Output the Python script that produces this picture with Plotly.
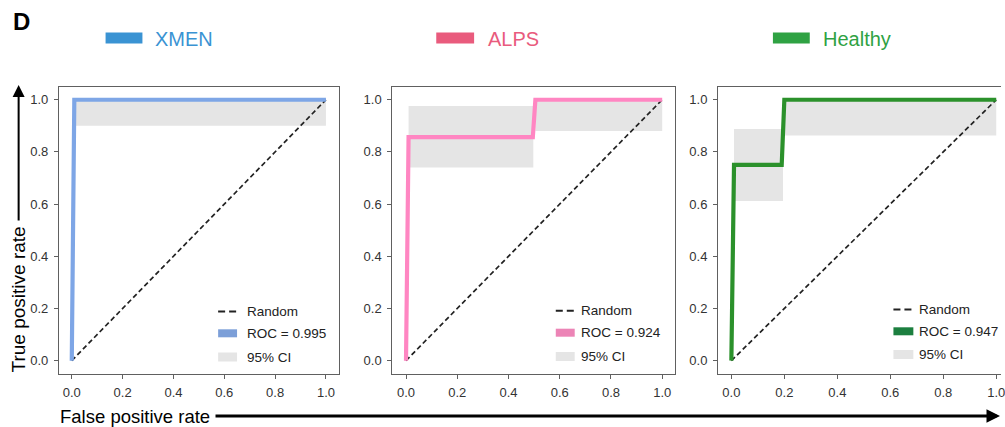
import plotly.graph_objects as go

# ---------------- data ----------------
panels = ["XMEN", "ALPS", "Healthy"]
auc_values = [0.995, 0.924, 0.947]

xmen_fpr = [0.0, 0.01, 1.0]
xmen_tpr = [0.0, 1.0, 1.0]
alps_fpr = [0.0, 0.01, 0.495, 0.505, 1.0]
alps_tpr = [0.0, 0.857, 0.857, 1.0, 1.0]
healthy_fpr = [0.0, 0.01, 0.19, 0.20, 1.0]
healthy_tpr = [0.0, 0.75, 0.75, 1.0, 1.0]

# 95% CI bands (step segments): start fpr, end fpr, lower tpr, upper tpr
xmen_ci_x0 = [0.015]
xmen_ci_x1 = [1.0]
xmen_ci_lo = [0.90]
xmen_ci_hi = [1.0]
alps_ci_x0 = [0.01, 0.505]
alps_ci_x1 = [0.497, 1.0]
alps_ci_lo = [0.74, 0.88]
alps_ci_hi = [0.976, 1.0]
healthy_ci_x0 = [0.01, 0.20]
healthy_ci_x1 = [0.195, 1.0]
healthy_ci_lo = [0.612, 0.863]
healthy_ci_hi = [0.888, 1.0]

random_x = [0.0, 1.0]
random_y = [0.0, 1.0]

tick_vals = [0.0, 0.2, 0.4, 0.6, 0.8, 1.0]
tick_text = ["0.0", "0.2", "0.4", "0.6", "0.8", "1.0"]

# ---------------- styles ----------------
W, H = 1005, 427
FONT = "Arial, Liberation Sans, Helvetica, sans-serif"
line_colors = ["#7ea6e6", "#ff86c2", "#2b912b"]
swatch_colors = ["#7c9fd8", "#ec84b6", "#1c7f3f"]
header_colors = ["#3a93d3", "#e95b7d", "#2fa243"]
CI_COLOR = "#e5e5e5"
AX_COLOR = "#606060"


def px(x):
    return x / W


def py(y):
    return 1 - y / H


x_domains_px = [(59.3, 340.0), (394.0, 677.7), (721.0, 1005.0)]
x_ranges = [[-0.05, 1.05], [-0.053, 1.05], [-0.05, 1.018]]
y_domain = [py(373.7), py(86.7)]
y_range = [-0.05, 1.05]

data_sets = [
    (xmen_fpr, xmen_tpr, xmen_ci_x0, xmen_ci_x1, xmen_ci_lo, xmen_ci_hi),
    (alps_fpr, alps_tpr, alps_ci_x0, alps_ci_x1, alps_ci_lo, alps_ci_hi),
    (healthy_fpr, healthy_tpr, healthy_ci_x0, healthy_ci_x1, healthy_ci_lo, healthy_ci_hi),
]

fig = go.Figure()

for i, (fpr, tpr, cx0, cx1, clo, chi) in enumerate(data_sets):
    xa = "x" if i == 0 else f"x{i+1}"
    ya = "y" if i == 0 else f"y{i+1}"
    for a, b, lo, hi in zip(cx0, cx1, clo, chi):
        fig.add_trace(go.Scatter(
            x=[a, b, b, a, a], y=[lo, lo, hi, hi, lo], fill="toself",
            fillcolor=CI_COLOR, line=dict(width=0), mode="lines",
            hoverinfo="skip", showlegend=False, xaxis=xa, yaxis=ya))
    fig.add_trace(go.Scatter(
        x=random_x, y=random_y, mode="lines",
        line=dict(color="#222222", width=1.7, dash="5px,3px"),
        showlegend=False, xaxis=xa, yaxis=ya))
    fig.add_trace(go.Scatter(
        x=fpr, y=tpr, mode="lines",
        line=dict(color=line_colors[i], width=4.2),
        name=f"ROC = {auc_values[i]:.3f}",
        showlegend=False, xaxis=xa, yaxis=ya))

layout = dict(
    width=W, height=H,
    margin=dict(l=0, r=0, t=0, b=0),
    paper_bgcolor="white", plot_bgcolor="white",
    font=dict(family=FONT, color="#222222"),
    showlegend=False,
)

for i in range(3):
    xk = "xaxis" if i == 0 else f"xaxis{i+1}"
    yk = "yaxis" if i == 0 else f"yaxis{i+1}"
    d0, d1 = x_domains_px[i]
    layout[xk] = dict(
        domain=[px(d0), min(px(d1), 1.0)], range=x_ranges[i],
        anchor="y" if i == 0 else f"y{i+1}",
        tickvals=tick_vals, ticktext=tick_text, ticks="outside", ticklen=4,
        tickcolor=AX_COLOR, showline=True, linecolor=AX_COLOR, linewidth=1.3,
        mirror=True, showgrid=False, zeroline=False,
        tickfont=dict(size=13, color="#333333"), ticklabelstandoff=3,
        ticklabeloverflow="allow",
    )
    layout[yk] = dict(
        domain=y_domain, range=y_range,
        anchor="x" if i == 0 else f"x{i+1}",
        tickvals=tick_vals, ticktext=tick_text, ticks="outside", ticklen=4,
        tickcolor=AX_COLOR, showline=True, linecolor=AX_COLOR, linewidth=1.3,
        mirror=(i < 2), showgrid=False, zeroline=False,
        tickfont=dict(size=13, color="#333333"), ticklabelstandoff=3,
    )

fig.update_layout(**layout)

shapes = []
annotations = []

# Panel legends
legend_px = [
    dict(sx0=219, sx1=238, tx=246, rows=[311.5, 333.3, 357.0]),
    dict(sx0=558, sx1=577, tx=581, rows=[310.7, 332.7, 356.5]),
    dict(sx0=897, sx1=917, tx=921, rows=[309.5, 331.3, 354.5]),
]
for i, lg in enumerate(legend_px):
    r0, r1, r2 = lg["rows"]
    shapes.append(dict(type="line", xref="paper", yref="paper",
                       x0=px(lg["sx0"]), x1=px(lg["sx1"]), y0=py(r0), y1=py(r0),
                       line=dict(color="#222222", width=2, dash="7px,4px")))
    shapes.append(dict(type="rect", xref="paper", yref="paper",
                       x0=px(lg["sx0"]), x1=px(lg["sx1"]), y0=py(r1 + 4), y1=py(r1 - 4),
                       fillcolor=swatch_colors[i], line=dict(width=0)))
    shapes.append(dict(type="rect", xref="paper", yref="paper",
                       x0=px(lg["sx0"]), x1=px(lg["sx1"]), y0=py(r2 + 4.5), y1=py(r2 - 4.5),
                       fillcolor=CI_COLOR, line=dict(width=0)))
    for txt, r in zip(["Random", f"ROC = {auc_values[i]:.3f}", "95% CI"], lg["rows"]):
        annotations.append(dict(text=txt, xref="paper", yref="paper",
                                x=px(lg["tx"]), y=py(r), xanchor="left", yanchor="middle",
                                showarrow=False, font=dict(size=13.5, color="#222222")))

# Header legend
header_px = [(106, 143, 154), (438, 476, 488), (776, 813, 824)]
for i, (r0, r1, tx) in enumerate(header_px):
    shapes.append(dict(type="rect", xref="paper", yref="paper",
                       x0=px(r0), x1=px(r1), y0=py(43.5), y1=py(32.5),
                       fillcolor=header_colors[i], line=dict(width=0)))
    annotations.append(dict(text=panels[i], xref="paper", yref="paper",
                            x=px(tx), y=py(39), xanchor="left", yanchor="middle",
                            showarrow=False, font=dict(size=20, color=header_colors[i])))

# Panel label
annotations.append(dict(text="<b>D</b>", xref="paper", yref="paper",
                        x=px(11), y=py(21), xanchor="left", yanchor="middle",
                        showarrow=False, font=dict(size=24, color="black")))

# Axis titles with arrows
annotations.append(dict(text="True positive rate", xref="paper", yref="paper",
                        x=px(18.5), y=py(299), xanchor="center", yanchor="middle",
                        textangle=-90, showarrow=False, font=dict(size=19, color="black")))
annotations.append(dict(text="", xref="paper", yref="paper",
                        x=px(18.7), y=py(85), ax=0, ay=137, showarrow=True,
                        arrowhead=2, arrowsize=1.2, arrowwidth=2, arrowcolor="black"))
annotations.append(dict(text="False positive rate", xref="paper", yref="paper",
                        x=px(58), y=py(416), xanchor="left", yanchor="middle",
                        showarrow=False, font=dict(size=18.5, color="black")))
annotations.append(dict(text="", xref="paper", yref="paper",
                        x=px(1004), y=py(416), ax=-786, ay=0, showarrow=True,
                        arrowhead=2, arrowsize=0.9, arrowwidth=3, arrowcolor="black"))

fig.update_layout(shapes=shapes, annotations=annotations)

fig.write_html(
    "out.html",
    config={"displayModeBar": False},
    post_script="document.body.style.margin='0px';document.body.style.overflow='hidden';",
)
